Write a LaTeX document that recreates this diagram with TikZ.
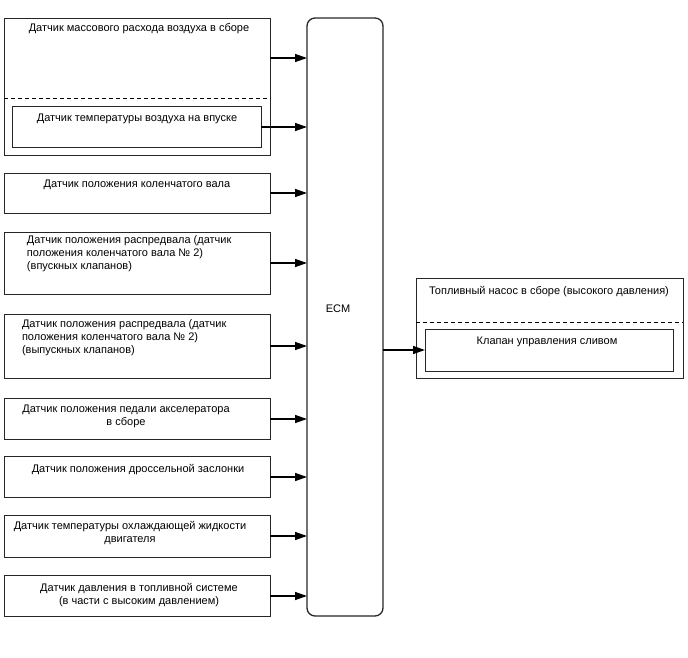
\documentclass[tikz,border=0pt]{standalone}
\usepackage{fontspec}
\setmainfont{Liberation Sans}
\usetikzlibrary{arrows.meta}
\begin{document}
\begin{tikzpicture}[x=1pt,y=-1pt,
  box/.style={draw=black!85,line width=0.9pt,inner sep=0pt,outer sep=0pt,minimum width=266pt},
  ghost/.style={inner sep=0pt,outer sep=0pt},
  lbl/.style={inner sep=0pt,outer sep=0pt,font=\fontsize{11}{13}\selectfont},
  arr/.style={line width=1.4pt,-{Triangle[length=12pt,width=8pt]}},
  sepline/.style={line width=0.9pt,dash pattern=on 4pt off 3pt}]
\useasboundingbox (0,0) rectangle (688,658);
% left boxes
\node[box,minimum height=137pt] (b1) at (137,86.5) {};
\node[ghost,minimum width=266pt,minimum height=80pt] (b1top) at (137,58) {};
\draw[sepline] (b1top.south west) -- (b1top.south east);
\node[box,minimum width=249pt,minimum height=41pt] (b1in) at (136.5,127) {};
\node[box,minimum height=40pt] (b2) at (137,193) {};
\node[box,minimum height=62pt] (b3) at (137,263) {};
\node[box,minimum height=64pt] (b4) at (137,346) {};
\node[box,minimum height=41pt] (b5) at (137,419) {};
\node[box,minimum height=41pt] (b6) at (137,477) {};
\node[box,minimum height=42pt] (b7) at (137,536) {};
\node[box,minimum height=41pt] (b8) at (137,596) {};
% ECM
\node[draw=black!85,line width=1.3pt,rounded corners=8pt,inner sep=0pt,outer sep=0pt,minimum width=76pt,minimum height=598pt] (ecm) at (345,317) {};
\node[lbl,anchor=base] (ecmt) at (338,312) {ECM};
% pump
\node[box,minimum width=267pt,minimum height=100pt] (p) at (549.5,328) {};
\node[ghost,minimum width=267pt,minimum height=44pt] (ptop) at (549.5,300) {};
\draw[sepline] (ptop.south west) -- (ptop.south east);
\node[box,minimum width=248pt,minimum height=42pt] (pin) at (549,350) {};
% labels
\node[lbl,anchor=base] (t1) at (139,32) {Датчик массового расхода воздуха в сборе};
\node[lbl,anchor=base] (t1in) at (137,122) {Датчик температуры воздуха на впуске};
\node[lbl,anchor=base] (t2) at (137,187) {Датчик положения коленчатого вала};
\node[lbl,anchor=north west,align=left] (t3) at (27,236) {Датчик положения распредвала (датчик\\положения коленчатого вала № 2)\\(впускных клапанов)};
\node[lbl,anchor=north west,align=left] (t4) at (22,320) {Датчик положения распредвала (датчик\\положения коленчатого вала № 2)\\(выпускных клапанов)};
\node[lbl,anchor=north,align=center] (t5) at (126,405) {Датчик положения педали акселератора\\в сборе};
\node[lbl,anchor=base] (t6) at (138,472) {Датчик положения дроссельной заслонки};
\node[lbl,anchor=north,align=center] (t7) at (130,521) {Датчик температуры охлаждающей жидкости\\двигателя};
\node[lbl,anchor=north,align=center] (t8) at (139,583) {Датчик давления в топливной системе\\(в части с высоким давлением)};
\node[lbl,anchor=base] (tp) at (549,294) {Топливный насос в сборе (высокого давления)};
\node[lbl,anchor=base] (tpin) at (547,344) {Клапан управления сливом};
% arrows
\foreach \n in {b1top,b1in,b2,b3,b4,b5,b6,b7,b8}
  \draw[arr] (\n.east) -- (\n.east -| ecm.west);
\draw[arr] (pin.west -| ecm.east) -- (pin.west);
\end{tikzpicture}
\end{document}
